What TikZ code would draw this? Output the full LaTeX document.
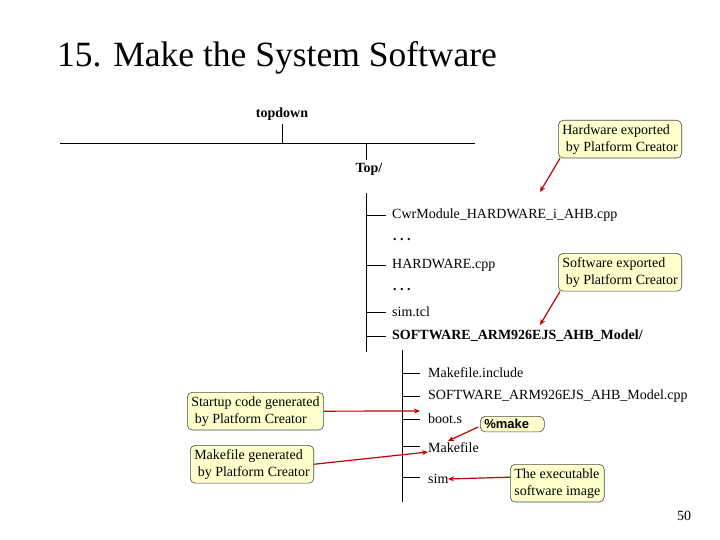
\documentclass[tikz,border=0pt]{standalone}
\usepackage{fontspec}
\setmainfont{Liberation Serif}
\newfontfamily\sansf{Liberation Sans}
\usetikzlibrary{arrows.meta}
\definecolor{cfill}{HTML}{FFFFCC}
\definecolor{arr}{HTML}{C00000}
\begin{document}
\begin{tikzpicture}[x=1pt,y=-1pt,
  t/.style={anchor=west,inner sep=0pt,font=\fontsize{14}{14}\selectfont},
  call/.style={draw=black!70,fill=cfill,rounded corners=5pt,align=left,inner xsep=4pt,inner ysep=4pt,font=\fontsize{14}{17}\selectfont,anchor=north west,line width=0.6pt},
  pt/.style={draw=arr,line width=1.2pt,-{Stealth[length=6pt,width=5pt]}},
  ln/.style={line width=0.7pt}]
\useasboundingbox (0,0) rectangle (720,540);
\node[anchor=west,inner sep=0pt,font=\fontsize{35.5}{36}\selectfont] (title) at (57,58) {15. Make the System Software};
\node[inner sep=0pt,font=\bfseries\fontsize{14}{14}\selectfont] (td) at (282,114) {topdown};
\draw[ln] (282,124) -- (282,143);
\draw[ln] (60,143) -- (475,143);
\draw[ln] (366,143) -- (366,160);
\node[inner sep=0pt,font=\bfseries\fontsize{14}{14}\selectfont] (top) at (369,169) {Top/};
\draw[ln] (366,193) -- (366,352);
\foreach \y in {215,265,312,336} \draw[ln] (366,\y) -- (386,\y);
\node[t] (cwr) at (392,215) {CwrModule\_HARDWARE\_i\_AHB.cpp};
\node[t,font=\bfseries\fontsize{14}{14}\selectfont] (d1) at (393,240) {.\ .\ .};
\node[t] (hw) at (392,265) {HARDWARE.cpp};
\node[t,font=\bfseries\fontsize{14}{14}\selectfont] (d2) at (393,290) {.\ .\ .};
\node[t] (tcl) at (392,312) {sim.tcl};
\node[t,font=\bfseries\fontsize{14}{14}\selectfont] (sw) at (392,336) {SOFTWARE\_ARM926EJS\_AHB\_Model/};
\draw[ln] (402,350) -- (402,502);
\foreach \y in {373,396,419,446,477} \draw[ln] (402,\y) -- (420,\y);
\node[t] (mi) at (428,373) {Makefile.include};
\node[t] (swc) at (428,396) {SOFTWARE\_ARM926EJS\_AHB\_Model.cpp};
\node[t] (boot) at (428,419) {boot.s};
\node[t] (mk) at (428,448) {Makefile};
\node[t] (sim) at (428,479) {sim};
\node[call] (c1) at (558,120) {Hardware exported\\\ by Platform Creator};
\node[call] (c2) at (558,253) {Software exported\\\ by Platform Creator};
\node[call] (c3) at (187,392) {Startup code generated\\\ by Platform Creator};
\node[call] (c4) at (190,445) {Makefile generated\\\ by Platform Creator};
\node[call,font=\sansf\bfseries\fontsize{13}{15}\selectfont,text width=56pt,inner ysep=3pt] (c5) at (480,416) {\%make};
\node[call] (c6) at (510,464) {The executable\\software image};
\coordinate (a1) at (540,192);
\coordinate (a2) at (540,325);
\coordinate (a3) at (420,411);
\coordinate (a4) at (428,452);
\coordinate (a5) at (448,441);
\coordinate (a6) at (448,479);
\draw[pt] (c1.south west) ++(2,0) -- (a1);
\draw[pt] (c2.south west) ++(2,0) -- (a2);
\draw[pt] (c3.east) -- (a3);
\draw[pt] (c4.east) -- (a4);
\draw[pt] (c5.west) ++(-2,3) -- (a5);
\draw[pt] (c6.west) ++(0,-6) -- (a6);
\node[inner sep=0pt,font=\fontsize{14}{14}\selectfont] (pg) at (684,516) {50};
\end{tikzpicture}
\end{document}
